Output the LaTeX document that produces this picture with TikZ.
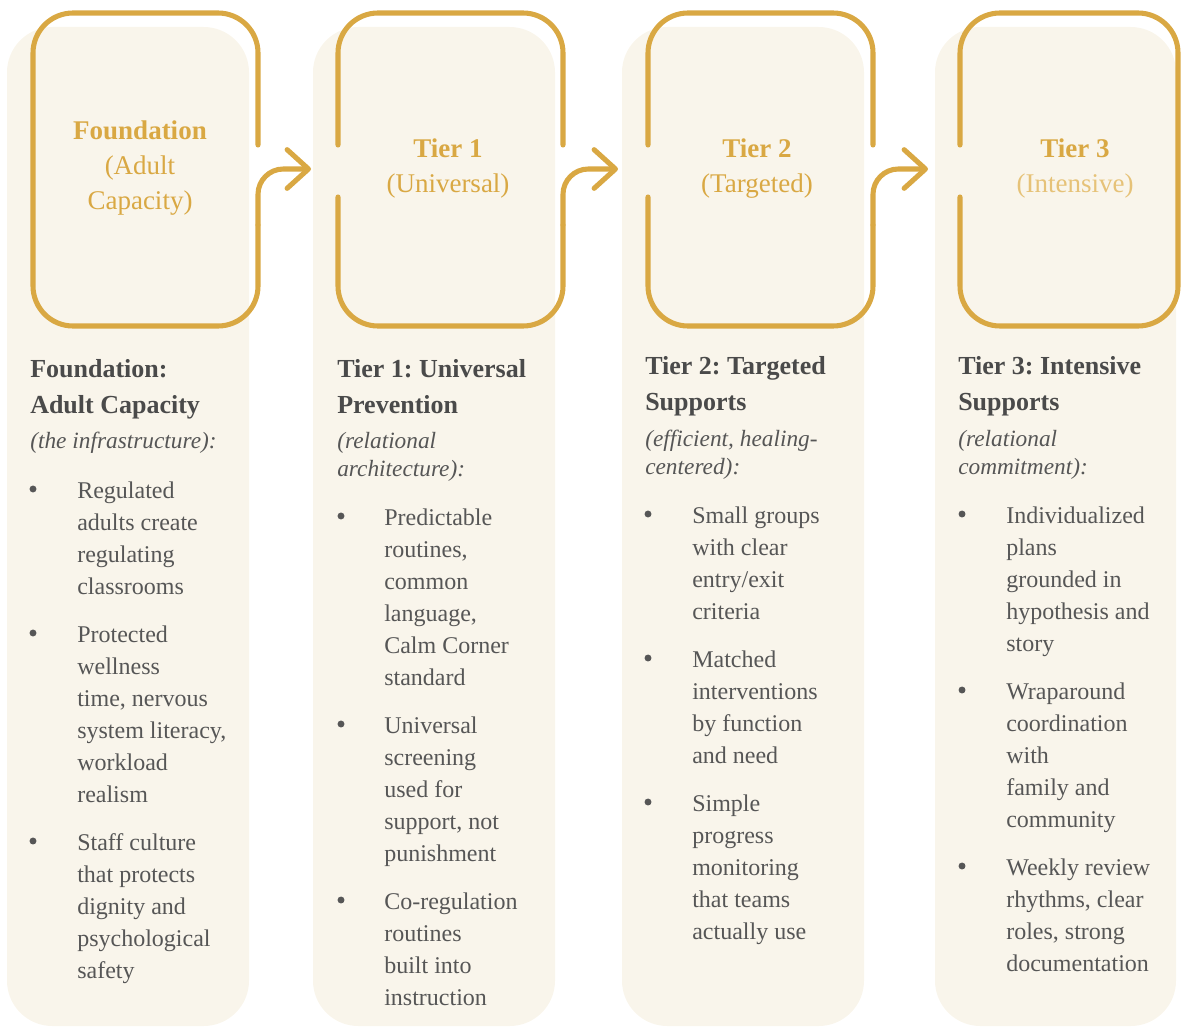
\documentclass[tikz,border=0pt]{standalone}
\usepackage{fontspec}
\setmainfont{Liberation Serif}
\usetikzlibrary{arrows.meta}
\frenchspacing

\definecolor{panelcream}{HTML}{F9F5EB}
\definecolor{tiergold}{HTML}{D9A843}
\definecolor{palegold}{HTML}{E6C278}
\definecolor{headgray}{HTML}{4A4A4A}
\definecolor{bodygray}{HTML}{565656}

% multi-line text whose base is the first line
\newcommand{\colstack}[1]{\parbox[t]{6cm}{\raggedright #1}}
\newcommand{\midstack}[1]{\parbox[t]{160pt}{\centering #1}}

\tikzset{
  panel/.style={fill=panelcream, rounded corners=34pt},
  frameline/.style={draw=tiergold, line width=3.8pt, line cap=round, line join=round, rounded corners=30pt},
  flowarrow/.style={draw=tiergold, line width=3.8pt, line cap=round, rounded corners=19pt,
    -{Straight Barb[length=16pt, width=29pt, round]}},
  tiername/.style={anchor=base, inner sep=0pt, text=tiergold, font=\fontsize{20.25}{26.25}\selectfont},
  heading/.style={anchor=base west, inner sep=0pt, text=headgray, font=\fontsize{19.5}{27}\selectfont\bfseries},
  subhead/.style={anchor=base west, inner sep=0pt, text=bodygray, font=\fontsize{17.5}{21.5}\selectfont\itshape},
  bodytext/.style={anchor=base west, inner sep=0pt, text=bodygray, font=\fontsize{18}{24}\selectfont},
  bulletdot/.style={fill=bodygray}
}

\begin{document}
\begin{tikzpicture}[x=0.75pt, y=-0.75pt]
  \useasboundingbox (0,0) rectangle (1181,1027);

  % column panels
  \fill[panel] (7,27) rectangle (249,1026);
  \fill[panel] (313,27) rectangle (555,1026);
  \fill[panel] (622,27) rectangle (864,1026);
  \fill[panel] (935,27) rectangle (1176,1026);

  % gold frames, open where the arrows pass
  \draw[frameline] (258,145) -- (258,13) -- (33,13) -- (33,326) -- (258,326) -- (258,225);
  \draw[frameline] (338,145) -- (338,13) -- (563,13) -- (563,145);
  \draw[frameline] (338,197) -- (338,326) -- (563,326) -- (563,225);
  \draw[frameline] (648,145) -- (648,13) -- (873,13) -- (873,145);
  \draw[frameline] (648,197) -- (648,326) -- (873,326) -- (873,225);
  \draw[frameline] (960,145) -- (960,13) -- (1178,13) -- (1178,326) -- (960,326) -- (960,197);

  \coordinate (fndout) at (258,225);
  \coordinate (t1out) at (563,225);
  \coordinate (t2out) at (873,225);
  \coordinate (t1in) at (311,169);
  \coordinate (t2in) at (618,169);
  \coordinate (t3in) at (928,169);

  \draw[flowarrow] (fndout) |- (t1in);
  \draw[flowarrow] (t1out) |- (t2in);
  \draw[flowarrow] (t2out) |- (t3in);

  % tier names
  \node[tiername] (fndname) at (140,140) {\midstack{\textbf{Foundation}\\(Adult\\Capacity)}};
  \node[tiername] (t1name) at (448,158) {\midstack{\textbf{Tier 1}\\(Universal)}};
  \node[tiername] (t2name) at (757,158) {\midstack{\textbf{Tier 2}\\(Targeted)}};
  \node[tiername] (t3name) at (1075,158) {\midstack{\textbf{Tier 3}\\\textcolor{palegold}{(Intensive)}}};

  % Foundation
  \node[heading] (fndhead) at (30,377) {\colstack{Foundation:\\Adult Capacity}};
  \node[subhead] (fndsub) at (30,448) {(the infrastructure):};
  \fill[bulletdot] (33,489) circle [radius=2.6pt];
  \node[bodytext] (fndA) at (77,498) {\colstack{Regulated\\adults create\\regulating\\classrooms}};
  \fill[bulletdot] (33,633) circle [radius=2.6pt];
  \node[bodytext] (fndB) at (77,642) {\colstack{Protected\\wellness\\time, nervous\\system literacy,\\workload\\realism}};
  \fill[bulletdot] (33,841) circle [radius=2.6pt];
  \node[bodytext] (fndC) at (77,850) {\colstack{Staff culture\\that protects\\dignity and\\psychological\\safety}};

  % Tier 1
  \node[heading] (t1head) at (337,377) {\colstack{Tier 1: Universal\\Prevention}};
  \node[subhead] (t1sub) at (337,448) {\colstack{(relational\\architecture):}};
  \fill[bulletdot] (341,516) circle [radius=2.6pt];
  \node[bodytext] (t1A) at (384,525) {\colstack{Predictable\\routines,\\common\\language,\\Calm Corner\\standard}};
  \fill[bulletdot] (341,724) circle [radius=2.6pt];
  \node[bodytext] (t1B) at (384,733) {\colstack{Universal\\screening\\used for\\support, not\\punishment}};
  \fill[bulletdot] (341,900) circle [radius=2.6pt];
  \node[bodytext] (t1C) at (384,909) {\colstack{Co-regulation\\routines\\built into\\instruction}};

  % Tier 2
  \node[heading] (t2head) at (645,374) {\colstack{Tier 2: Targeted\\Supports}};
  \node[subhead] (t2sub) at (645,446) {\colstack{(efficient, healing-\\centered):}};
  \fill[bulletdot] (648,514) circle [radius=2.6pt];
  \node[bodytext] (t2A) at (692,523) {\colstack{Small groups\\with clear\\entry/exit\\criteria}};
  \fill[bulletdot] (648,658) circle [radius=2.6pt];
  \node[bodytext] (t2B) at (692,667) {\colstack{Matched\\interventions\\by function\\and need}};
  \fill[bulletdot] (648,802) circle [radius=2.6pt];
  \node[bodytext] (t2C) at (692,811) {\colstack{Simple\\progress\\monitoring\\that teams\\actually use}};

  % Tier 3
  \node[heading] (t3head) at (958,374) {\colstack{Tier 3: Intensive\\Supports}};
  \node[subhead] (t3sub) at (958,446) {\colstack{(relational\\commitment):}};
  \fill[bulletdot] (962,514) circle [radius=2.6pt];
  \node[bodytext] (t3A) at (1006,523) {\colstack{Individualized\\plans\\grounded in\\hypothesis and\\story}};
  \fill[bulletdot] (962,690) circle [radius=2.6pt];
  \node[bodytext] (t3B) at (1006,699) {\colstack{Wraparound\\coordination\\with\\family and\\community}};
  \fill[bulletdot] (962,866) circle [radius=2.6pt];
  \node[bodytext] (t3C) at (1006,875) {\colstack{Weekly review\\rhythms, clear\\roles, strong\\documentation}};
\end{tikzpicture}
\end{document}
